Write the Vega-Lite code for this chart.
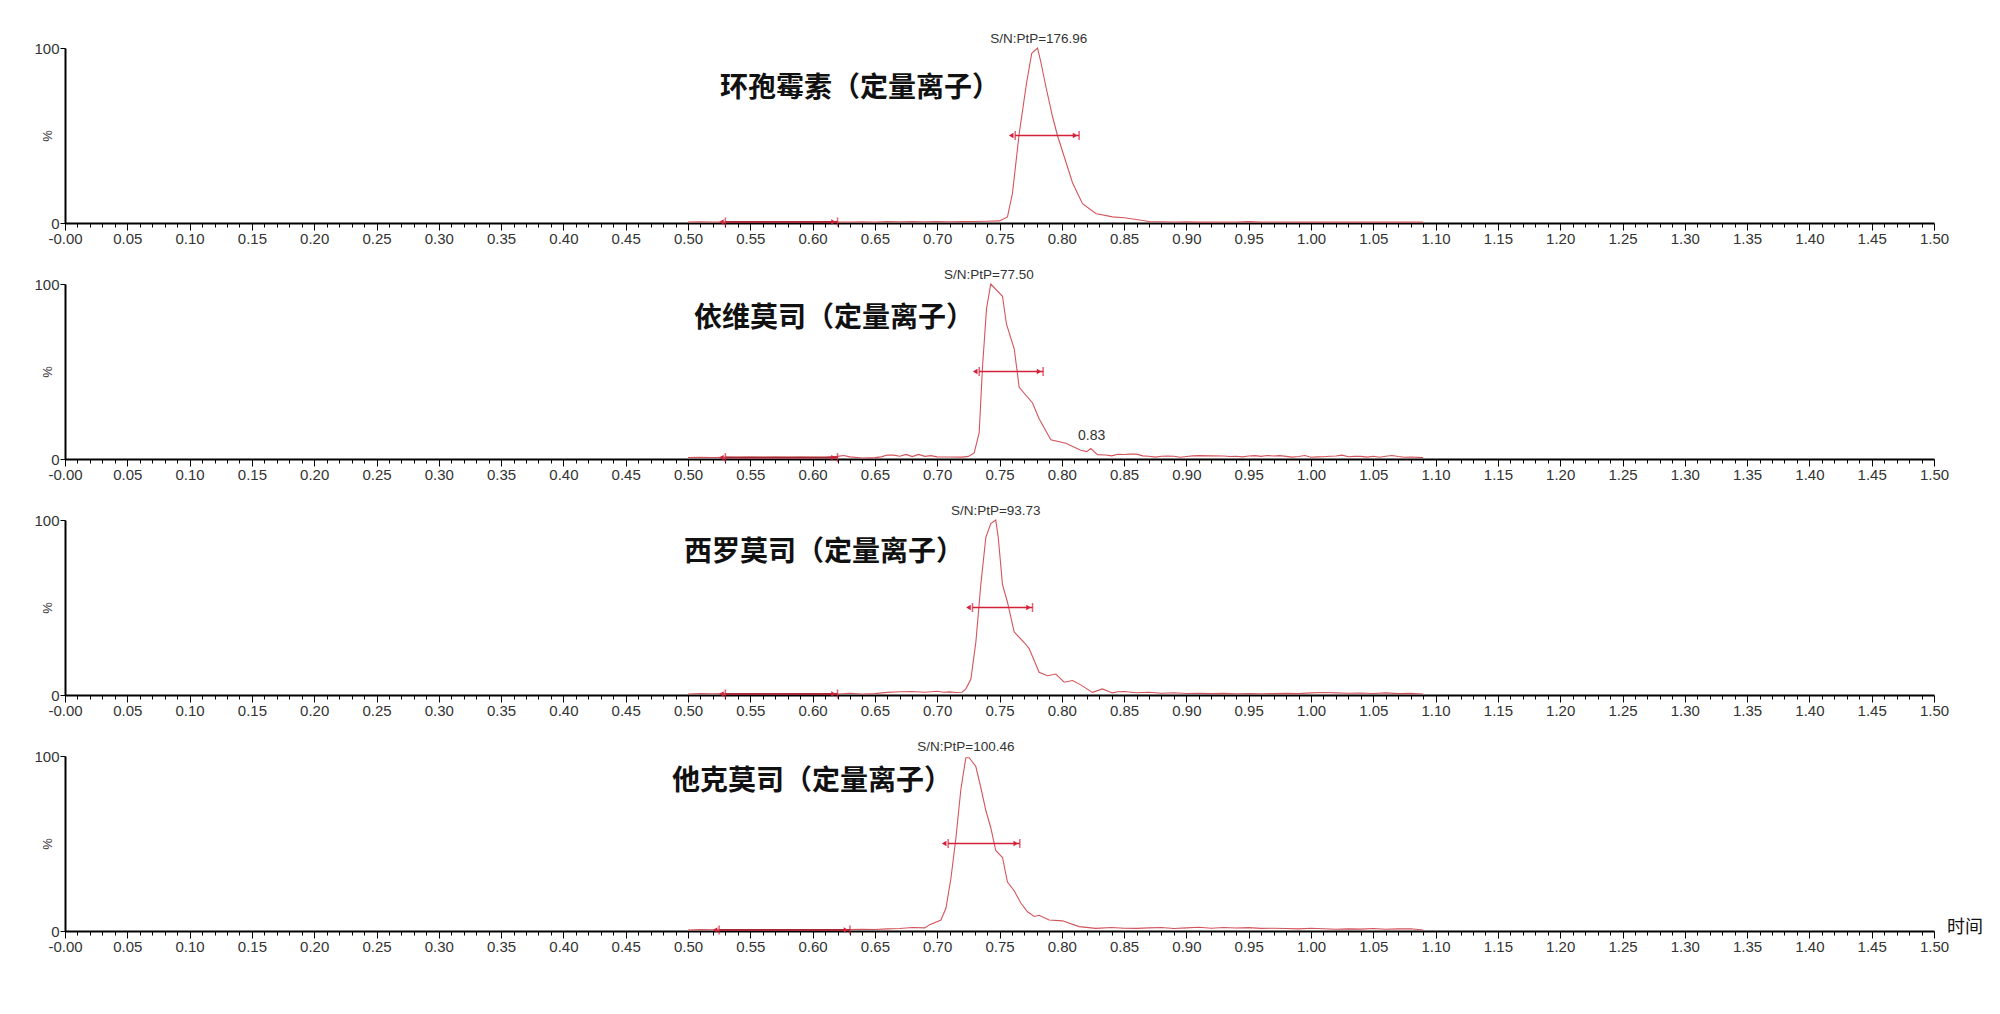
{
  "$schema": "https://vega.github.io/schema/vega-lite/v6.json",
  "background": "white",
  "padding": {"left": 33, "top": 32, "right": 0, "bottom": 0},
  "config": {"view": {"stroke": null}, "font": "Liberation Sans"},
  "data": {"values": [
    {"p":1,"k":"tr","t":0.50,"v":0.6},{"p":1,"k":"tr","t":0.51,"v":0.7},{"p":1,"k":"tr","t":0.52,"v":0.6},{"p":1,"k":"tr","t":0.53,"v":0.5},{"p":1,"k":"tr","t":0.54,"v":0.6},{"p":1,"k":"tr","t":0.55,"v":0.5},{"p":1,"k":"tr","t":0.56,"v":0.6},{"p":1,"k":"tr","t":0.57,"v":0.5},{"p":1,"k":"tr","t":0.58,"v":0.5},{"p":1,"k":"tr","t":0.59,"v":0.6},{"p":1,"k":"tr","t":0.60,"v":0.5},{"p":1,"k":"tr","t":0.61,"v":0.6},{"p":1,"k":"tr","t":0.62,"v":0.5},{"p":1,"k":"tr","t":0.63,"v":0.6},{"p":1,"k":"tr","t":0.64,"v":0.7},{"p":1,"k":"tr","t":0.65,"v":0.6},{"p":1,"k":"tr","t":0.66,"v":0.8},{"p":1,"k":"tr","t":0.67,"v":0.7},{"p":1,"k":"tr","t":0.68,"v":0.8},{"p":1,"k":"tr","t":0.69,"v":0.7},{"p":1,"k":"tr","t":0.70,"v":0.8},{"p":1,"k":"tr","t":0.71,"v":0.7},{"p":1,"k":"tr","t":0.72,"v":0.8},{"p":1,"k":"tr","t":0.73,"v":0.9},{"p":1,"k":"tr","t":0.74,"v":1.0},{"p":1,"k":"tr","t":0.75,"v":1.2},{"p":1,"k":"tr","t":0.7564,"v":3.5},{"p":1,"k":"tr","t":0.7604,"v":17},{"p":1,"k":"tr","t":0.7658,"v":51},{"p":1,"k":"tr","t":0.7717,"v":80},{"p":1,"k":"tr","t":0.7759,"v":97},{"p":1,"k":"tr","t":0.7805,"v":100},{"p":1,"k":"tr","t":0.7832,"v":92},{"p":1,"k":"tr","t":0.7872,"v":78},{"p":1,"k":"tr","t":0.7925,"v":61},{"p":1,"k":"tr","t":0.7965,"v":50},{"p":1,"k":"tr","t":0.8019,"v":38},{"p":1,"k":"tr","t":0.8086,"v":23},{"p":1,"k":"tr","t":0.8166,"v":11},{"p":1,"k":"tr","t":0.8273,"v":5.4},{"p":1,"k":"tr","t":0.8406,"v":3.5},{"p":1,"k":"tr","t":0.85,"v":3.0},{"p":1,"k":"tr","t":0.86,"v":2.0},{"p":1,"k":"tr","t":0.87,"v":0.9},{"p":1,"k":"tr","t":0.88,"v":0.7},{"p":1,"k":"tr","t":0.89,"v":0.6},{"p":1,"k":"tr","t":0.90,"v":0.7},{"p":1,"k":"tr","t":0.91,"v":0.5},{"p":1,"k":"tr","t":0.92,"v":0.6},{"p":1,"k":"tr","t":0.93,"v":0.5},{"p":1,"k":"tr","t":0.94,"v":0.6},{"p":1,"k":"tr","t":0.95,"v":0.8},{"p":1,"k":"tr","t":0.96,"v":0.5},{"p":1,"k":"tr","t":0.97,"v":0.6},{"p":1,"k":"tr","t":0.98,"v":0.5},{"p":1,"k":"tr","t":0.99,"v":0.5},{"p":1,"k":"tr","t":1.00,"v":0.6},{"p":1,"k":"tr","t":1.01,"v":0.5},{"p":1,"k":"tr","t":1.02,"v":0.5},{"p":1,"k":"tr","t":1.03,"v":0.6},{"p":1,"k":"tr","t":1.04,"v":0.5},{"p":1,"k":"tr","t":1.05,"v":0.5},{"p":1,"k":"tr","t":1.06,"v":0.6},{"p":1,"k":"tr","t":1.07,"v":0.5},{"p":1,"k":"tr","t":1.08,"v":0.5},{"p":1,"k":"tr","t":1.09,"v":0.5},

    {"p":2,"k":"tr","t":0.50,"v":0.8},{"p":2,"k":"tr","t":0.51,"v":1.0},{"p":2,"k":"tr","t":0.52,"v":0.9},{"p":2,"k":"tr","t":0.53,"v":1.0},{"p":2,"k":"tr","t":0.54,"v":0.8},{"p":2,"k":"tr","t":0.55,"v":0.9},{"p":2,"k":"tr","t":0.56,"v":0.8},{"p":2,"k":"tr","t":0.57,"v":0.9},{"p":2,"k":"tr","t":0.58,"v":0.8},{"p":2,"k":"tr","t":0.59,"v":0.9},{"p":2,"k":"tr","t":0.60,"v":0.8},{"p":2,"k":"tr","t":0.61,"v":0.9},{"p":2,"k":"tr","t":0.62,"v":1.5},{"p":2,"k":"tr","t":0.625,"v":2.0},{"p":2,"k":"tr","t":0.63,"v":1.2},{"p":2,"k":"tr","t":0.64,"v":0.6},{"p":2,"k":"tr","t":0.65,"v":0.8},{"p":2,"k":"tr","t":0.655,"v":1.2},{"p":2,"k":"tr","t":0.66,"v":2.3},{"p":2,"k":"tr","t":0.665,"v":2.2},{"p":2,"k":"tr","t":0.67,"v":1.6},{"p":2,"k":"tr","t":0.675,"v":2.6},{"p":2,"k":"tr","t":0.68,"v":1.4},{"p":2,"k":"tr","t":0.685,"v":2.6},{"p":2,"k":"tr","t":0.69,"v":1.5},{"p":2,"k":"tr","t":0.695,"v":1.9},{"p":2,"k":"tr","t":0.70,"v":1.2},{"p":2,"k":"tr","t":0.71,"v":1.1},{"p":2,"k":"tr","t":0.72,"v":1.1},{"p":2,"k":"tr","t":0.725,"v":1.5},{"p":2,"k":"tr","t":0.7297,"v":3.5},{"p":2,"k":"tr","t":0.7337,"v":15},{"p":2,"k":"tr","t":0.7364,"v":53},{"p":2,"k":"tr","t":0.7396,"v":86},{"p":2,"k":"tr","t":0.743,"v":100},{"p":2,"k":"tr","t":0.7524,"v":93},{"p":2,"k":"tr","t":0.7556,"v":77},{"p":2,"k":"tr","t":0.7618,"v":63},{"p":2,"k":"tr","t":0.7658,"v":41},{"p":2,"k":"tr","t":0.7765,"v":32},{"p":2,"k":"tr","t":0.7818,"v":23},{"p":2,"k":"tr","t":0.7912,"v":11},{"p":2,"k":"tr","t":0.8032,"v":9},{"p":2,"k":"tr","t":0.8152,"v":5},{"p":2,"k":"tr","t":0.8200,"v":4.2},{"p":2,"k":"tr","t":0.8233,"v":6},{"p":2,"k":"tr","t":0.8286,"v":2.5},{"p":2,"k":"tr","t":0.835,"v":2.3},{"p":2,"k":"tr","t":0.84,"v":1.8},{"p":2,"k":"tr","t":0.845,"v":2.7},{"p":2,"k":"tr","t":0.85,"v":2.6},{"p":2,"k":"tr","t":0.855,"v":2.8},{"p":2,"k":"tr","t":0.86,"v":2.8},{"p":2,"k":"tr","t":0.865,"v":1.8},{"p":2,"k":"tr","t":0.87,"v":1.6},{"p":2,"k":"tr","t":0.875,"v":1.1},{"p":2,"k":"tr","t":0.88,"v":1.6},{"p":2,"k":"tr","t":0.885,"v":1.7},{"p":2,"k":"tr","t":0.89,"v":1.6},{"p":2,"k":"tr","t":0.895,"v":1.0},{"p":2,"k":"tr","t":0.90,"v":1.4},{"p":2,"k":"tr","t":0.905,"v":1.8},{"p":2,"k":"tr","t":0.91,"v":1.9},{"p":2,"k":"tr","t":0.92,"v":1.8},{"p":2,"k":"tr","t":0.93,"v":1.7},{"p":2,"k":"tr","t":0.935,"v":1.4},{"p":2,"k":"tr","t":0.94,"v":1.6},{"p":2,"k":"tr","t":0.945,"v":1.2},{"p":2,"k":"tr","t":0.95,"v":1.7},{"p":2,"k":"tr","t":0.955,"v":1.9},{"p":2,"k":"tr","t":0.96,"v":1.5},{"p":2,"k":"tr","t":0.965,"v":2.0},{"p":2,"k":"tr","t":0.97,"v":1.7},{"p":2,"k":"tr","t":0.975,"v":1.9},{"p":2,"k":"tr","t":0.98,"v":1.5},{"p":2,"k":"tr","t":0.985,"v":1.1},{"p":2,"k":"tr","t":0.99,"v":1.4},{"p":2,"k":"tr","t":0.995,"v":2.0},{"p":2,"k":"tr","t":1.00,"v":1.0},{"p":2,"k":"tr","t":1.005,"v":1.2},{"p":2,"k":"tr","t":1.01,"v":1.3},{"p":2,"k":"tr","t":1.015,"v":1.6},{"p":2,"k":"tr","t":1.02,"v":1.7},{"p":2,"k":"tr","t":1.025,"v":2.2},{"p":2,"k":"tr","t":1.03,"v":1.3},{"p":2,"k":"tr","t":1.035,"v":1.5},{"p":2,"k":"tr","t":1.04,"v":1.5},{"p":2,"k":"tr","t":1.045,"v":1.1},{"p":2,"k":"tr","t":1.05,"v":1.6},{"p":2,"k":"tr","t":1.055,"v":1.0},{"p":2,"k":"tr","t":1.06,"v":1.6},{"p":2,"k":"tr","t":1.065,"v":2.0},{"p":2,"k":"tr","t":1.07,"v":1.4},{"p":2,"k":"tr","t":1.075,"v":1.0},{"p":2,"k":"tr","t":1.08,"v":1.1},{"p":2,"k":"tr","t":1.09,"v":0.8},

    {"p":3,"k":"tr","t":0.50,"v":0.6},{"p":3,"k":"tr","t":0.51,"v":0.8},{"p":3,"k":"tr","t":0.52,"v":0.7},{"p":3,"k":"tr","t":0.53,"v":0.8},{"p":3,"k":"tr","t":0.54,"v":0.6},{"p":3,"k":"tr","t":0.55,"v":0.7},{"p":3,"k":"tr","t":0.56,"v":0.8},{"p":3,"k":"tr","t":0.57,"v":0.6},{"p":3,"k":"tr","t":0.58,"v":0.7},{"p":3,"k":"tr","t":0.59,"v":0.6},{"p":3,"k":"tr","t":0.60,"v":0.5},{"p":3,"k":"tr","t":0.61,"v":0.7},{"p":3,"k":"tr","t":0.62,"v":0.6},{"p":3,"k":"tr","t":0.63,"v":1.0},{"p":3,"k":"tr","t":0.64,"v":0.6},{"p":3,"k":"tr","t":0.65,"v":0.8},{"p":3,"k":"tr","t":0.66,"v":1.5},{"p":3,"k":"tr","t":0.67,"v":1.9},{"p":3,"k":"tr","t":0.68,"v":2.0},{"p":3,"k":"tr","t":0.69,"v":1.6},{"p":3,"k":"tr","t":0.70,"v":2.1},{"p":3,"k":"tr","t":0.705,"v":1.6},{"p":3,"k":"tr","t":0.71,"v":1.8},{"p":3,"k":"tr","t":0.715,"v":1.4},{"p":3,"k":"tr","t":0.72,"v":1.6},{"p":3,"k":"tr","t":0.723,"v":3.5},{"p":3,"k":"tr","t":0.727,"v":9},{"p":3,"k":"tr","t":0.731,"v":30},{"p":3,"k":"tr","t":0.735,"v":63},{"p":3,"k":"tr","t":0.739,"v":90},{"p":3,"k":"tr","t":0.743,"v":98},{"p":3,"k":"tr","t":0.747,"v":100},{"p":3,"k":"tr","t":0.749,"v":90},{"p":3,"k":"tr","t":0.7524,"v":63},{"p":3,"k":"tr","t":0.7564,"v":53},{"p":3,"k":"tr","t":0.7618,"v":36},{"p":3,"k":"tr","t":0.7698,"v":30},{"p":3,"k":"tr","t":0.7738,"v":26.5},{"p":3,"k":"tr","t":0.7818,"v":13},{"p":3,"k":"tr","t":0.7885,"v":11},{"p":3,"k":"tr","t":0.7952,"v":12},{"p":3,"k":"tr","t":0.8019,"v":7.3},{"p":3,"k":"tr","t":0.8086,"v":8.3},{"p":3,"k":"tr","t":0.8152,"v":5.8},{"p":3,"k":"tr","t":0.8246,"v":1.5},{"p":3,"k":"tr","t":0.8326,"v":3.5},{"p":3,"k":"tr","t":0.8406,"v":1.2},{"p":3,"k":"tr","t":0.845,"v":1.9},{"p":3,"k":"tr","t":0.85,"v":2.0},{"p":3,"k":"tr","t":0.86,"v":1.3},{"p":3,"k":"tr","t":0.87,"v":1.6},{"p":3,"k":"tr","t":0.88,"v":1.0},{"p":3,"k":"tr","t":0.89,"v":1.3},{"p":3,"k":"tr","t":0.90,"v":0.9},{"p":3,"k":"tr","t":0.91,"v":1.0},{"p":3,"k":"tr","t":0.92,"v":0.8},{"p":3,"k":"tr","t":0.93,"v":0.9},{"p":3,"k":"tr","t":0.94,"v":0.7},{"p":3,"k":"tr","t":0.95,"v":0.8},{"p":3,"k":"tr","t":0.96,"v":0.7},{"p":3,"k":"tr","t":0.97,"v":0.8},{"p":3,"k":"tr","t":0.98,"v":0.9},{"p":3,"k":"tr","t":0.99,"v":0.8},{"p":3,"k":"tr","t":1.00,"v":1.2},{"p":3,"k":"tr","t":1.01,"v":1.4},{"p":3,"k":"tr","t":1.02,"v":1.2},{"p":3,"k":"tr","t":1.03,"v":1.0},{"p":3,"k":"tr","t":1.04,"v":1.1},{"p":3,"k":"tr","t":1.05,"v":0.9},{"p":3,"k":"tr","t":1.06,"v":1.2},{"p":3,"k":"tr","t":1.07,"v":0.8},{"p":3,"k":"tr","t":1.08,"v":0.9},{"p":3,"k":"tr","t":1.09,"v":0.6},

    {"p":4,"k":"tr","t":0.50,"v":0.6},{"p":4,"k":"tr","t":0.51,"v":0.8},{"p":4,"k":"tr","t":0.52,"v":0.7},{"p":4,"k":"tr","t":0.53,"v":0.6},{"p":4,"k":"tr","t":0.54,"v":0.7},{"p":4,"k":"tr","t":0.55,"v":0.6},{"p":4,"k":"tr","t":0.56,"v":0.6},{"p":4,"k":"tr","t":0.57,"v":0.7},{"p":4,"k":"tr","t":0.58,"v":0.6},{"p":4,"k":"tr","t":0.59,"v":0.6},{"p":4,"k":"tr","t":0.60,"v":0.7},{"p":4,"k":"tr","t":0.61,"v":0.6},{"p":4,"k":"tr","t":0.62,"v":0.7},{"p":4,"k":"tr","t":0.63,"v":0.9},{"p":4,"k":"tr","t":0.64,"v":1.0},{"p":4,"k":"tr","t":0.65,"v":0.9},{"p":4,"k":"tr","t":0.66,"v":1.2},{"p":4,"k":"tr","t":0.67,"v":1.4},{"p":4,"k":"tr","t":0.68,"v":2.0},{"p":4,"k":"tr","t":0.69,"v":1.8},{"p":4,"k":"tr","t":0.6936,"v":3.5},{"p":4,"k":"tr","t":0.703,"v":6.3},{"p":4,"k":"tr","t":0.707,"v":13},{"p":4,"k":"tr","t":0.711,"v":30},{"p":4,"k":"tr","t":0.715,"v":53},{"p":4,"k":"tr","t":0.719,"v":81},{"p":4,"k":"tr","t":0.723,"v":99},{"p":4,"k":"tr","t":0.7257,"v":99},{"p":4,"k":"tr","t":0.731,"v":94},{"p":4,"k":"tr","t":0.735,"v":82},{"p":4,"k":"tr","t":0.739,"v":69},{"p":4,"k":"tr","t":0.743,"v":59},{"p":4,"k":"tr","t":0.747,"v":46},{"p":4,"k":"tr","t":0.7524,"v":42},{"p":4,"k":"tr","t":0.7564,"v":28},{"p":4,"k":"tr","t":0.7618,"v":23},{"p":4,"k":"tr","t":0.7671,"v":16},{"p":4,"k":"tr","t":0.7725,"v":11},{"p":4,"k":"tr","t":0.7778,"v":8.3},{"p":4,"k":"tr","t":0.7818,"v":9},{"p":4,"k":"tr","t":0.7898,"v":6.3},{"p":4,"k":"tr","t":0.8005,"v":5.8},{"p":4,"k":"tr","t":0.8139,"v":2.5},{"p":4,"k":"tr","t":0.8273,"v":1.5},{"p":4,"k":"tr","t":0.84,"v":2.0},{"p":4,"k":"tr","t":0.85,"v":1.6},{"p":4,"k":"tr","t":0.86,"v":1.5},{"p":4,"k":"tr","t":0.87,"v":1.8},{"p":4,"k":"tr","t":0.88,"v":2.0},{"p":4,"k":"tr","t":0.89,"v":1.4},{"p":4,"k":"tr","t":0.90,"v":1.8},{"p":4,"k":"tr","t":0.91,"v":2.1},{"p":4,"k":"tr","t":0.92,"v":1.6},{"p":4,"k":"tr","t":0.93,"v":2.0},{"p":4,"k":"tr","t":0.94,"v":1.7},{"p":4,"k":"tr","t":0.95,"v":1.9},{"p":4,"k":"tr","t":0.96,"v":1.5},{"p":4,"k":"tr","t":0.97,"v":1.6},{"p":4,"k":"tr","t":0.98,"v":1.4},{"p":4,"k":"tr","t":0.99,"v":1.2},{"p":4,"k":"tr","t":1.00,"v":1.6},{"p":4,"k":"tr","t":1.01,"v":1.3},{"p":4,"k":"tr","t":1.02,"v":1.0},{"p":4,"k":"tr","t":1.03,"v":1.2},{"p":4,"k":"tr","t":1.04,"v":1.1},{"p":4,"k":"tr","t":1.05,"v":1.4},{"p":4,"k":"tr","t":1.06,"v":1.0},{"p":4,"k":"tr","t":1.07,"v":1.2},{"p":4,"k":"tr","t":1.08,"v":1.3},{"p":4,"k":"tr","t":1.09,"v":0.6},

    {"p":1,"k":"fwhm","t":0.7626,"t2":0.8139,"v":50},
    {"p":2,"k":"fwhm","t":0.7337,"t2":0.7850,"v":50},
    {"p":3,"k":"fwhm","t":0.7283,"t2":0.7765,"v":50},
    {"p":4,"k":"fwhm","t":0.7088,"t2":0.7663,"v":50},
    {"p":1,"k":"noise","t":0.53,"t2":0.62,"v":0.6},
    {"p":2,"k":"noise","t":0.53,"t2":0.62,"v":0.8},
    {"p":3,"k":"noise","t":0.53,"t2":0.62,"v":0.6},
    {"p":4,"k":"noise","t":0.525,"t2":0.63,"v":0.6},

    {"p":1,"k":"sn","t":0.7815,"v":105,"label":"S/N:PtP=176.96"},
    {"p":2,"k":"sn","t":0.7415,"v":105,"label":"S/N:PtP=77.50"},
    {"p":3,"k":"sn","t":0.747,"v":105,"label":"S/N:PtP=93.73"},
    {"p":4,"k":"sn","t":0.723,"v":105,"label":"S/N:PtP=100.46"},
    {"p":2,"k":"ann","t":0.824,"v":13,"label":"0.83"},
    {"p":1,"k":"title","t":0.5257,"v":76.6,"label":"环孢霉素（定量离子）"},
    {"p":2,"k":"title","t":0.5048,"v":80,"label":"依维莫司（定量离子）"},
    {"p":3,"k":"title","t":0.4968,"v":81,"label":"西罗莫司（定量离子）"},
    {"p":4,"k":"title","t":0.4872,"v":85,"label":"他克莫司（定量离子）"},
    {"p":4,"k":"unit","t":1.5104,"v":1.5,"label":"时间"}
  ]},
  "facet": {"row": {"field": "p", "type": "ordinal", "header": null}},
  "spacing": 61,
  "bounds": "flush",
  "resolve": {"axis": {"x": "independent", "y": "independent"}},
  "spec": {
    "width": 1869,
    "height": 175,
    "layer": [
      {
        "transform": [{"filter": "datum.k === 'tr'"}],
        "mark": {"type": "line", "color": "#d4545c", "strokeWidth": 1.1},
        "encoding": {
          "x": {
            "field": "t", "type": "quantitative",
            "scale": {"domain": [0, 1.5], "nice": false, "zero": false},
            "axis": {
              "title": null, "grid": false, "tickCount": 150,
              "labelExpr": "round(datum.value * 100) % 5 === 0 ? (datum.value === 0 ? '-0.00' : format(datum.value, '.2f')) : ''",
              "labelOverlap": false, "labelFlush": false, "labelBound": false,
              "labelFont": "Liberation Sans", "labelFontSize": 15, "labelColor": "#333", "labelPadding": 1,
              "domainColor": "#000", "domainWidth": 2, "tickColor": "#000", "tickWidth": 1,
              "tickSize": {"condition": {"test": "round(datum.value * 100) % 5 === 0", "value": 7}, "value": 4}
            }
          },
          "y": {
            "field": "v", "type": "quantitative",
            "scale": {"domain": [0, 100], "nice": false},
            "axis": {
              "title": "%", "titleFont": "Liberation Sans", "titleFontSize": 13, "titleFontWeight": "normal", "titleColor": "#333",
              "titlePadding": -21,
              "grid": false, "values": [0, 100],
              "labelOverlap": false, "labelBound": false, "labelFlush": false,
              "labelFont": "Liberation Sans", "labelFontSize": 15, "labelColor": "#333", "labelPadding": 1,
              "domainColor": "#000", "domainWidth": 2, "tickColor": "#000", "tickSize": 5
            }
          }
        }
      },
      {
        "transform": [{"filter": "datum.k === 'fwhm' || datum.k === 'noise'"}],
        "mark": {"type": "rule"},
        "encoding": {
          "x": {"field": "t", "type": "quantitative"},
          "x2": {"field": "t2"},
          "y": {"field": "v", "type": "quantitative"},
          "color": {"condition": {"test": "datum.k === 'noise'", "value": "#a82a34"}, "value": "#d42038"},
          "strokeWidth": {"condition": {"test": "datum.k === 'noise'", "value": 2}, "value": 1.5}
        }
      },
      {
        "transform": [
          {"filter": "datum.k === 'fwhm' || datum.k === 'noise'"},
          {"fold": ["t", "t2"], "as": ["side", "tx"]}
        ],
        "mark": {"type": "tick", "orient": "vertical", "color": "#d42038", "thickness": 1.5, "size": 9},
        "encoding": {
          "x": {"field": "tx", "type": "quantitative"},
          "y": {"field": "v", "type": "quantitative"}
        }
      },
      {
        "transform": [
          {"filter": "datum.k === 'fwhm' || datum.k === 'noise'"},
          {"fold": ["t", "t2"], "as": ["side", "tx"]}
        ],
        "mark": {"type": "point", "filled": true, "color": "#d42038", "opacity": 1, "size": 28},
        "encoding": {
          "x": {"field": "tx", "type": "quantitative"},
          "y": {"field": "v", "type": "quantitative"},
          "shape": {"condition": {"test": "datum.side === 't'", "value": "triangle-left"}, "value": "triangle-right"},
          "xOffset": {"condition": {"test": "datum.side === 't'", "value": 4}, "value": -4}
        }
      },
      {
        "transform": [{"filter": "datum.k === 'sn' || datum.k === 'ann'"}],
        "mark": {"type": "text", "font": "Liberation Sans", "color": "#333", "baseline": "middle", "align": "center"},
        "encoding": {
          "x": {"field": "t", "type": "quantitative"},
          "y": {"field": "v", "type": "quantitative"},
          "text": {"field": "label"},
          "size": {"condition": {"test": "datum.k === 'ann'", "value": 14}, "value": 13.5}
        }
      },
      {
        "transform": [{"filter": "datum.k === 'title'"}],
        "mark": {"type": "text", "font": "Noto Sans CJK SC", "color": "#111", "baseline": "middle", "align": "left", "fontWeight": "bold", "fontSize": 28},
        "encoding": {
          "x": {"field": "t", "type": "quantitative"},
          "y": {"field": "v", "type": "quantitative"},
          "text": {"field": "label"}
        }
      },
      {
        "transform": [{"filter": "datum.k === 'unit'"}],
        "mark": {"type": "text", "font": "Noto Sans CJK SC", "color": "#111", "baseline": "middle", "align": "left", "fontSize": 18},
        "encoding": {
          "x": {"field": "t", "type": "quantitative"},
          "y": {"field": "v", "type": "quantitative"},
          "text": {"field": "label"}
        }
      }
    ]
  }
}
